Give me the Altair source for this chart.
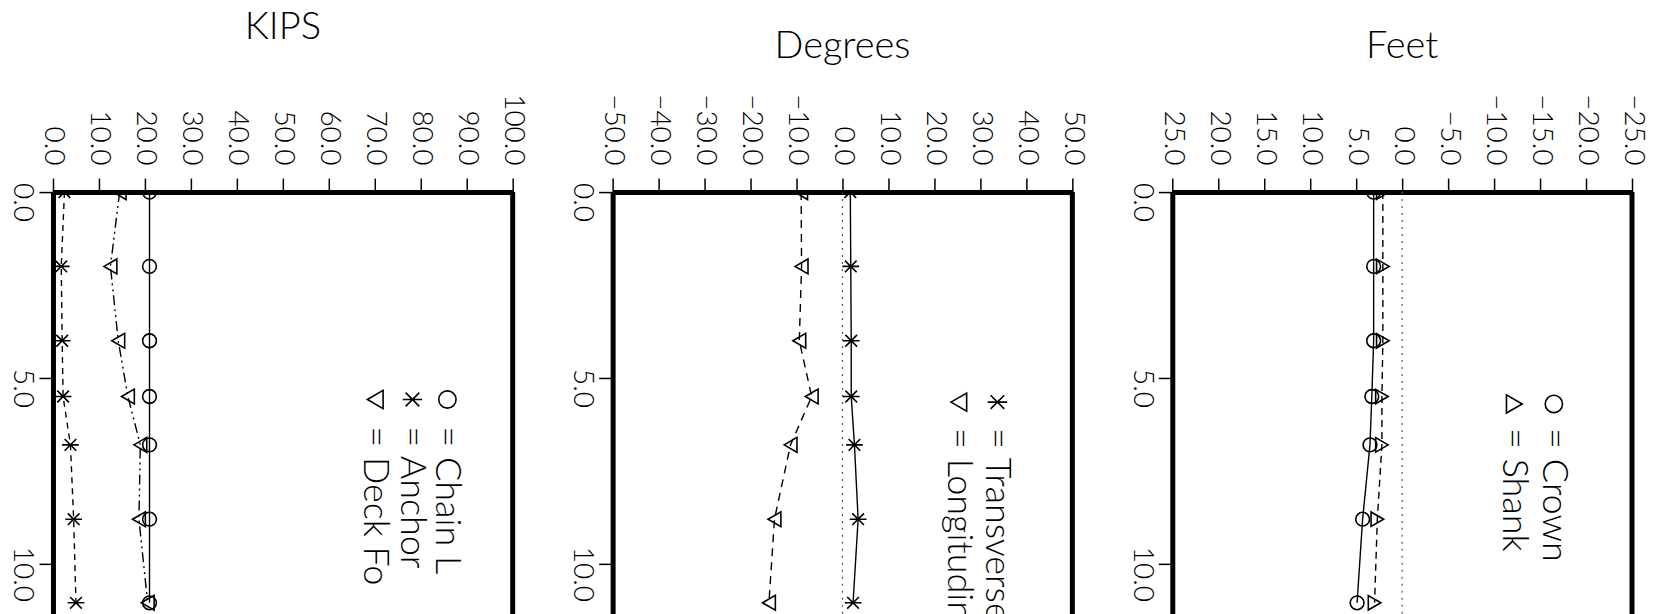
import altair as alt
import pandas as pd

# ---- data ----
time = [0.0, 2.0, 4.0, 5.5, 6.8, 8.8, 11.05]

# KIPS panel
chain = [21.0, 21.0, 21.0, 21.0, 21.0, 21.0, 21.0]
anchor = [2.5, 1.8, 2.0, 2.2, 3.8, 4.5, 5.0]
deck = [14.5, 12.5, 14.2, 16.3, 19.0, 18.7, 20.6]

# Degrees panel
transverse = [1.7, 1.8, 1.9, 1.9, 2.6, 3.4, 2.3]
longitudinal = [-9.0, -8.9, -9.4, -6.7, -11.3, -14.8, -16.0]

# Feet panel
crown = [3.1, 3.1, 3.1, 3.3, 3.5, 4.3, 4.9]
shank = [2.1, 2.1, 2.1, 2.2, 2.2, 2.7, 3.0]

kips_ticks = [0, 10, 20, 30, 40, 50, 60, 70, 80, 90, 100]
deg_ticks = [-50, -40, -30, -20, -10, 0, 10, 20, 30, 40, 50]
feet_ticks = [25, 20, 15, 10, 5, 0, -5, -10, -15, -20, -25]
time_ticks = [0, 5, 10]

kips_legend = ["= Chain L", "= Anchor", "= Deck Fo"]
deg_legend = ["= Transverse", "= Longitudinal"]
feet_legend = ["= Crown", "= Shank"]

FONT = "Lato"
FW = 300
W, H = 460, 440
T_MAX = 11.83
ASTERISK = "M-1,0L1,0M-0.7,-0.7L0.7,0.7M-0.7,0.7L0.7,-0.7"


def y_enc():
    return alt.Y(
        "t:Q",
        scale=alt.Scale(domain=[0, T_MAX], reverse=True, nice=False, zero=False),
        axis=alt.Axis(
            orient="left", values=time_ticks, format=".1f", title=None,
            labelAngle=90, labelAlign="center", labelBaseline="top",
            labelOffset=10, labelFont=FONT, labelFontWeight=FW, labelFontSize=28,
            labelColor="black", labelPadding=3, labelFlush=False, labelOverlap=False,
            tickSize=14, tickWidth=1.5, tickColor="black",
            domainWidth=5, domainColor="black", grid=False,
        ),
    )


def x_enc(domain, ticks):
    return alt.X(
        "v:Q",
        scale=alt.Scale(domain=domain, nice=False, zero=False),
        axis=alt.Axis(
            orient="top", values=ticks, format=".1f", title=None,
            labelAngle=90, labelAlign="right", labelBaseline="middle",
            labelFont=FONT, labelFontWeight=FW, labelFontSize=28, labelColor="black",
            labelPadding=13, labelFlush=False, labelOverlap=False,
            tickSize=14, tickWidth=1.5, tickColor="black",
            domainWidth=5, domainColor="black", grid=False,
        ),
    )


def series_layers(values, shape, dash, size, domain, ticks):
    df = pd.DataFrame({"t": time, "v": values})
    base = alt.Chart(df).encode(x=x_enc(domain, ticks), y=y_enc(), order="t:Q")
    line_kw = dict(color="black", strokeWidth=1.4, clip=True)
    if dash:
        line_kw["strokeDash"] = dash
    line = base.mark_line(**line_kw)
    pts = base.mark_point(shape=shape, filled=False, color="black",
                          strokeWidth=1.6, size=size, opacity=1, clip=True)
    return [line, pts]


def legend_layers(lines, shapes, sizes, xs, t_sym, t_txt):
    out = []
    for shp, sz, xv in zip(shapes, sizes, xs):
        out.append(
            alt.Chart(pd.DataFrame({"v": [xv], "t": [t_sym]})).mark_point(
                shape=shp, filled=False, color="black", strokeWidth=1.6,
                size=sz, opacity=1, clip=True,
            ).encode(x="v:Q", y="t:Q")
        )
    df = pd.DataFrame({"label": lines, "v": xs, "t": [t_txt] * len(lines)})
    out.append(
        alt.Chart(df).mark_text(
            angle=90, align="left", baseline="middle", font=FONT, fontWeight=FW,
            fontSize=36, color="black", clip=True,
        ).encode(x="v:Q", y="t:Q", text="label:N")
    )
    return out


def edge_rule(xval):
    return alt.Chart(pd.DataFrame({"v": [xval]})).mark_rule(
        color="black", strokeWidth=5).encode(x="v:Q")


def zero_rule():
    return alt.Chart(pd.DataFrame({"v": [0]})).mark_rule(
        color="#555555", strokeWidth=1.2, strokeDash=[2, 5]).encode(x="v:Q")


def title(text, offset):
    return alt.TitleParams(text=text, font=FONT, fontSize=38, fontWeight=FW,
                           color="black", anchor="middle", baseline="alphabetic",
                           offset=offset)


# Panel 1: KIPS
kd = [0, 100]
p1_layers = (
    series_layers(chain, "circle", None, 190, kd, kips_ticks)
    + series_layers(anchor, ASTERISK, [6, 5], 280, kd, kips_ticks)
    + series_layers(deck, "triangle-left", [10, 4, 2, 4, 2, 4], 220, kd, kips_ticks)
    + [edge_rule(100)]
    + legend_layers(kips_legend, ["circle", ASTERISK, "triangle-left"],
                    [300, 380, 330], [85.8, 78.2, 70.1], 5.58, 6.3)
)
p1 = alt.layer(*p1_layers).properties(width=W, height=H, title=title("KIPS", 17))

# Panel 2: Degrees
dd = [-50, 50]
p2_layers = (
    [zero_rule()]
    + series_layers(transverse, ASTERISK, None, 280, dd, deg_ticks)
    + series_layers(longitudinal, "triangle-left", [8, 6], 220, dd, deg_ticks)
    + [edge_rule(50)]
    + legend_layers(deg_legend, [ASTERISK, "triangle-left"], [380, 330],
                    [33.7, 25.3], 5.65, 6.35)
)
p2 = alt.layer(*p2_layers).properties(width=W, height=H, title=title("Degrees", -2))

# Panel 3: Feet
fd = [25, -25]
p3_layers = (
    [zero_rule()]
    + series_layers(crown, "circle", None, 190, fd, feet_ticks)
    + series_layers(shank, "triangle-right", [7, 5], 210, fd, feet_ticks)
    + [edge_rule(-25)]
    + legend_layers(feet_legend, ["circle", "triangle-right"], [300, 330],
                    [-16.5, -12.2], 5.7, 6.35)
)
p3 = alt.layer(*p3_layers).properties(width=W, height=H, title=title("Feet", -2))

chart = alt.hconcat(p1, p2, p3, spacing=100, bounds="flush").properties(
    padding={"left": 0, "top": 0, "right": 0, "bottom": 0},
    background="white",
).configure_view(strokeWidth=0)

chart.save("out.html", embed_options={"renderer": "svg", "actions": False})
